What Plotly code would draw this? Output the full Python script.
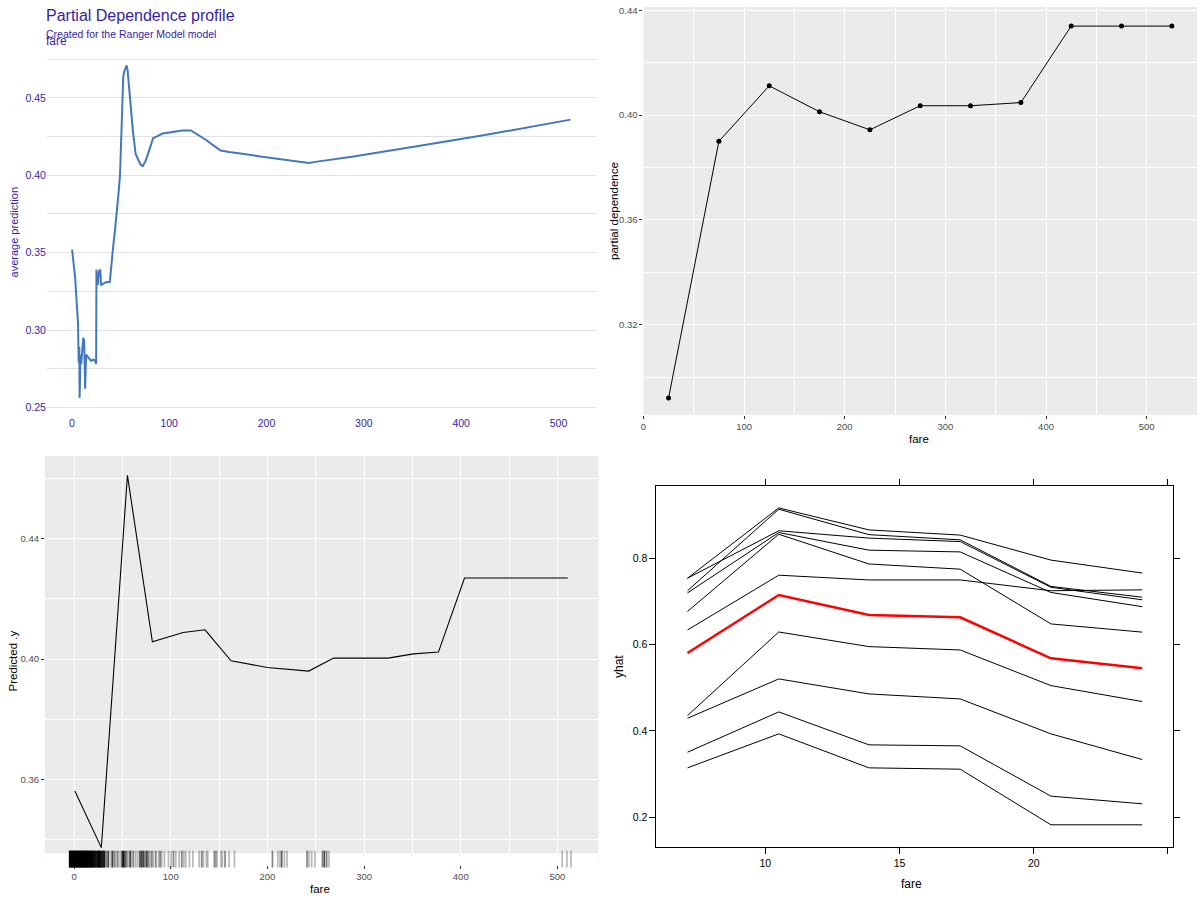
import plotly.graph_objects as go

W, H = 1200, 900
FONT = "Liberation Sans, Arial, sans-serif"

# ---------------- data ----------------
# Top-left: DALEX partial dependence profile (average prediction vs fare)
dalex_fare = [0.3, 2.0, 3.4, 4.4, 5.4, 6.4, 7.0, 7.7, 8.0, 9.0,
              9.7, 10.7, 11.7, 12.7, 13.7, 14.7, 17.0, 19.8, 22.0, 24.0,
              25.0, 25.3, 26.6, 28.0, 29.3, 30.0, 32.4, 35.8, 39.0, 40.0,
              41.6, 43.0, 44.3, 46.0, 47.8, 49.5, 50.8, 52.0, 52.9, 53.9,
              55.2, 56.3, 57.3, 58.6, 60.0, 61.4, 62.7, 65.5, 68.0, 70.5,
              72.9, 75.6, 78.4, 81.0, 83.5, 87.0, 93.2, 103.4, 113.6, 122.3,
              127.4, 137.6, 146.1, 152.9, 161.5, 175.1, 195.6, 219.5, 233.2, 243.4,
              253.6, 287.8, 356.1, 424.4, 512.3]
dalex_pred = [0.352, 0.344, 0.334, 0.324, 0.314, 0.304, 0.279, 0.289, 0.256, 0.284,
              0.278, 0.289, 0.295, 0.293, 0.262, 0.284, 0.282, 0.280, 0.281, 0.280,
              0.278, 0.339, 0.329, 0.338, 0.339, 0.329, 0.330, 0.331, 0.331, 0.338,
              0.351, 0.357, 0.364, 0.374, 0.387, 0.400, 0.421, 0.443, 0.464, 0.467,
              0.469, 0.471, 0.468, 0.459, 0.446, 0.439, 0.429, 0.414, 0.411, 0.407,
              0.406, 0.409, 0.414, 0.420, 0.424, 0.425, 0.427, 0.428, 0.429, 0.429,
              0.427, 0.423, 0.419, 0.416, 0.415, 0.414, 0.412, 0.410, 0.409, 0.408,
              0.409, 0.412, 0.419, 0.426, 0.436]
dalex_yticks = [0.25, 0.30, 0.35, 0.40, 0.45]
dalex_yminor = [0.275, 0.325, 0.375, 0.425, 0.475]
dalex_xticks = [0, 100, 200, 300, 400, 500]

# Top-right: binned partial dependence
bin_fare = [25, 75, 125, 175, 225, 275, 325, 375, 425, 475, 525]
bin_pd = [0.292, 0.390, 0.4112, 0.4013, 0.3944, 0.4036, 0.4036, 0.4048, 0.434, 0.434, 0.434]
bin_yticks = [0.32, 0.36, 0.40, 0.44]
bin_yminor = [0.30, 0.34, 0.38, 0.42]
fare_xticks = [0, 100, 200, 300, 400, 500]
fare_xminor = [50, 150, 250, 350, 450]

# Bottom-left: pdp curve with rug of observed fares
pdp_fare = [0.8, 28.2, 55.2, 81.0, 112.8, 135.4, 162.4, 200.0, 242.7, 268.5,
            325.0, 351.0, 376.9, 403.9, 510.7]
pdp_pred = [0.3562, 0.3374, 0.4610, 0.4057, 0.4088, 0.4097, 0.3994, 0.3972, 0.3960, 0.4003,
            0.4003, 0.4017, 0.4023, 0.4269, 0.4269]
pdp_yticks = [0.36, 0.40, 0.44]
pdp_yminor = [0.34, 0.38, 0.42, 0.46]

rug_fare = [-4.6, -3.8, -2.9, -2.1, -1.2, -0.4, 0.5, 1.3, 2.2, 3.0,
            3.9, 4.8, 5.6, 6.5, 7.3, 8.1, 9.0, 9.8, 10.7, 11.5,
            12.4, 13.2, 14.1, 14.9, 15.8, 16.6, 17.5, 18.3, 19.2, 20.0,
            20.9, 21.7, 22.6, 23.4, 24.3, 25.1, 26.0, 26.8, 27.7, 28.5,
            29.4, 30.2, 31.1, 31.9,
            33.8, 35.5, 38.3, 39.7, 41.7, 43.5, 45.2, 47.6, 49.7, 51.0,
            52.7, 54.5, 56.2, 58.0, 59.7, 61.4, 63.8, 65.9, 68.2, 70.0,
            71.7, 73.4, 75.2, 76.9, 78.6, 80.4, 82.1, 84.5, 87.3, 89.0,
            90.7, 93.5,
            97.6, 100.4, 102.8, 105.2, 108.6, 111.4, 113.5, 115.5, 119.3, 122.8,
            129.3, 132.0, 133.8, 136.9, 138.3, 145.2, 146.6, 147.9, 152.0, 153.4,
            156.2, 160.3, 165.9,
            205.2, 210.7, 213.0, 214.8, 217.6, 220.3,
            241.0, 243.0, 245.8, 249.2, 256.9, 258.9, 261.3, 263.7,
            505.0, 509.8, 514.0]
rug_count = [12, 15, 20, 18, 25, 30, 22, 18, 15, 20,
             12, 10, 14, 30, 40, 35, 25, 12, 10, 9,
             12, 20, 18, 10, 9, 8, 10, 9, 8, 7,
             5, 4, 6, 3, 5, 8, 10, 6, 4, 3,
             5, 3, 4, 3,
             2, 4, 1, 4, 2, 1, 2, 1, 4, 8,
             4, 2, 1, 4, 1, 2, 1, 1, 4, 4,
             4, 2, 4, 2, 1, 2, 1, 2, 1, 2,
             1, 1,
             1, 1, 2, 1, 1, 2, 1, 1, 1, 1,
             1, 2, 1, 1, 1, 2, 1, 1, 1, 1,
             2, 1, 1,
             2, 1, 1, 3, 1, 1,
             2, 1, 1, 1, 2, 4, 2, 1,
             1, 1, 1]

# Bottom-right: ICE curves (lattice style)
ice_fare = [7.1, 10.5, 13.86, 17.26, 20.64, 24.04]
ice_1 = [0.754, 0.917, 0.866, 0.854, 0.796, 0.766]
ice_2 = [0.754, 0.864, 0.847, 0.839, 0.733, 0.704]
ice_3 = [0.725, 0.914, 0.855, 0.843, 0.735, 0.710]
ice_4 = [0.720, 0.860, 0.819, 0.815, 0.721, 0.688]
ice_5 = [0.677, 0.856, 0.787, 0.775, 0.648, 0.629]
ice_6 = [0.634, 0.761, 0.750, 0.750, 0.725, 0.727]
ice_7 = [0.4355, 0.6293, 0.5954, 0.5876, 0.5050, 0.4680]
ice_8 = [0.4293, 0.5205, 0.4857, 0.4741, 0.3931, 0.3336]
ice_9 = [0.3506, 0.4440, 0.3676, 0.3653, 0.2487, 0.2309]
ice_10 = [0.3143, 0.3931, 0.3143, 0.3112, 0.1822, 0.1822]
ice_mean = [0.5807, 0.7151, 0.6687, 0.6633, 0.5683, 0.5452]
ice_xticks = [10, 15, 20, 25]
ice_xlabels = ["10", "15", "20", ""]
ice_yticks = [0.2, 0.4, 0.6, 0.8]

assert len(dalex_fare) == len(dalex_pred)
assert len(rug_fare) == len(rug_count)


# ---------------- helpers (reference pixel -> paper) ----------------
def dx(l, r):
    return [l / W, r / W]


def dy(t, b):
    return [1 - b / H, 1 - t / H]


def px(x):
    return x / W


def py(y):
    return 1 - y / H


fig = go.Figure()

# Top-left
fig.add_trace(go.Scatter(x=dalex_fare, y=dalex_pred, mode="lines",
                         line=dict(color="#4378bf", width=2), xaxis="x", yaxis="y",
                         hoverinfo="skip"))
# Top-right
fig.add_trace(go.Scatter(x=bin_fare, y=bin_pd, mode="lines+markers",
                         line=dict(color="black", width=1),
                         marker=dict(color="black", size=5),
                         xaxis="x2", yaxis="y2"))
# Bottom-left
fig.add_trace(go.Scatter(x=pdp_fare, y=pdp_pred, mode="lines",
                         line=dict(color="black", width=1.1), xaxis="x3", yaxis="y3"))
rug_colors = ["rgba(0,0,0,%.3f)" % (1 - (1 - 0.28) ** c) for c in rug_count]
fig.add_trace(go.Scatter(x=rug_fare, y=[0.5] * len(rug_fare), mode="markers",
                         marker=dict(symbol="line-ns", size=12,
                                     line=dict(width=1.7, color=rug_colors)),
                         xaxis="x3", yaxis="y5", cliponaxis=False, hoverinfo="skip"))
# Bottom-right
for curve in [ice_1, ice_2, ice_3, ice_4, ice_5, ice_6, ice_7, ice_8, ice_9, ice_10]:
    fig.add_trace(go.Scatter(x=ice_fare, y=curve, mode="lines",
                             line=dict(color="black", width=1), xaxis="x4", yaxis="y4"))
fig.add_trace(go.Scatter(x=ice_fare, y=ice_mean, mode="lines",
                         line=dict(color="#ff0000", width=2.5), xaxis="x4", yaxis="y4"))

PURPLE = "#371ea3"
GG_TICK = dict(family=FONT, size=9.5, color="#4d4d4d")
GRID_MAJ = dict(showgrid=True, gridcolor="white", gridwidth=1.2)

common = dict(zeroline=False, fixedrange=True)

fig.update_layout(
    width=W, height=H, margin=dict(l=0, r=0, t=0, b=0),
    paper_bgcolor="white", plot_bgcolor="white", showlegend=False,
    font=dict(family=FONT), hovermode=False,
    # top-left (DALEX)
    xaxis=dict(domain=dx(44, 594), anchor="y", range=[-25.6, 538],
               tickmode="array", tickvals=dalex_xticks, showgrid=False, ticks="",
               showline=False, tickfont=dict(family=FONT, size=10.5, color=PURPLE), **common),
    yaxis=dict(domain=dy(45, 414), anchor="x", range=[0.245, 0.483],
               tickmode="array", tickvals=dalex_yticks, tickformat=".2f",
               showgrid=True, gridcolor="#e2e2e2", gridwidth=1, ticks="", showline=False,
               minor=dict(tickmode="array", tickvals=dalex_yminor, showgrid=True,
                          gridcolor="#e2e2e2", gridwidth=1, ticks=""),
               tickfont=dict(family=FONT, size=10.5, color=PURPLE), **common),
    # top-right (ggplot)
    xaxis2=dict(domain=dx(642, 1197), anchor="y2", range=[0, 550],
                tickmode="array", tickvals=fare_xticks, ticks="outside", ticklen=3,
                tickwidth=1, tickcolor="#333333", tickfont=GG_TICK, **GRID_MAJ,
                minor=dict(tickmode="array", tickvals=fare_xminor, showgrid=True,
                           gridcolor="white", gridwidth=0.6, ticks=""), **common),
    yaxis2=dict(domain=dy(5, 414), anchor="x2", range=[0.2855, 0.4413],
                tickmode="array", tickvals=bin_yticks, tickformat=".2f", ticks="outside",
                ticklen=3, tickwidth=1, tickcolor="#333333", tickfont=GG_TICK, **GRID_MAJ,
                minor=dict(tickmode="array", tickvals=bin_yminor, showgrid=True,
                           gridcolor="white", gridwidth=0.6, ticks=""), **common),
    # bottom-left (ggplot)
    xaxis3=dict(domain=dx(42, 597), anchor="y3", range=[-30.2, 542.5],
                tickmode="array", tickvals=fare_xticks, ticks="outside", ticklen=3,
                tickwidth=1, tickcolor="#333333", tickfont=GG_TICK, **GRID_MAJ,
                minor=dict(tickmode="array", tickvals=fare_xminor, showgrid=True,
                           gridcolor="white", gridwidth=0.6, ticks=""), **common),
    yaxis3=dict(domain=dy(455, 865), anchor="x3", range=[0.3316, 0.4674],
                tickmode="array", tickvals=pdp_yticks, tickformat=".2f", ticks="outside",
                ticklen=3, tickwidth=1, tickcolor="#333333", tickfont=GG_TICK, **GRID_MAJ,
                minor=dict(tickmode="array", tickvals=pdp_yminor, showgrid=True,
                           gridcolor="white", gridwidth=0.6, ticks=""), **common),
    yaxis5=dict(domain=dy(853, 865), anchor="x3", range=[0, 1], visible=False,
                showgrid=False, **common),
    # bottom-right (lattice)
    xaxis4=dict(domain=dx(655, 1173), anchor="y4", range=[5.94, 25.19],
                tickmode="array", tickvals=ice_xticks, ticktext=ice_xlabels,
                ticks="outside", ticklen=6, tickwidth=1, tickcolor="black",
                showline=True, linecolor="black", linewidth=1, mirror="allticks",
                showgrid=False, tickfont=dict(family=FONT, size=10.5, color="black"), **common),
    yaxis4=dict(domain=dy(485, 847), anchor="x4", range=[0.1305, 0.968],
                tickmode="array", tickvals=ice_yticks, tickformat=".1f",
                ticks="outside", ticklen=6, tickwidth=1, tickcolor="black",
                showline=True, linecolor="black", linewidth=1, mirror="allticks",
                showgrid=False, tickfont=dict(family=FONT, size=10.5, color="black"), **common),
)

# grey ggplot panels
for ax in ["2", "3"]:
    fig.add_shape(type="rect", xref="x%s domain" % ax, yref="y%s domain" % ax,
                  x0=0, x1=1, y0=0, y1=1, fillcolor="#ebebeb", line=dict(width=0),
                  layer="below")

ann = []


def text(x, y, s, size, color="black", angle=0, xanchor="center"):
    ann.append(dict(x=px(x), y=py(y), xref="paper", yref="paper", text=s,
                    showarrow=False, textangle=angle, xanchor=xanchor, yanchor="middle",
                    font=dict(family=FONT, size=size, color=color)))


text(41, 14, "Partial Dependence profile", 16, PURPLE, xanchor="left")
text(41, 32, "Created for the Ranger Model model", 10.5, PURPLE, xanchor="left")
text(41, 39, "fare", 12, PURPLE, xanchor="left")
text(12, 230, "average prediction", 11, PURPLE, angle=-90)

text(612, 209, "partial dependence", 11.5, angle=-90)
text(918, 438, "fare", 11.5)

text(10, 660, "Predicted .y", 11.5, angle=-90)
text(318, 889, "fare", 11.5)

text(617, 666, "yhat", 12, angle=-90)
text(911, 884, "fare", 12)

fig.update_layout(annotations=ann)

# remove the default page margin so the 1200x900 figure fills the window exactly
fig.write_html("out.html", config={"displayModeBar": False},
               post_script="document.body.style.margin='0';document.body.style.overflow='hidden';")
